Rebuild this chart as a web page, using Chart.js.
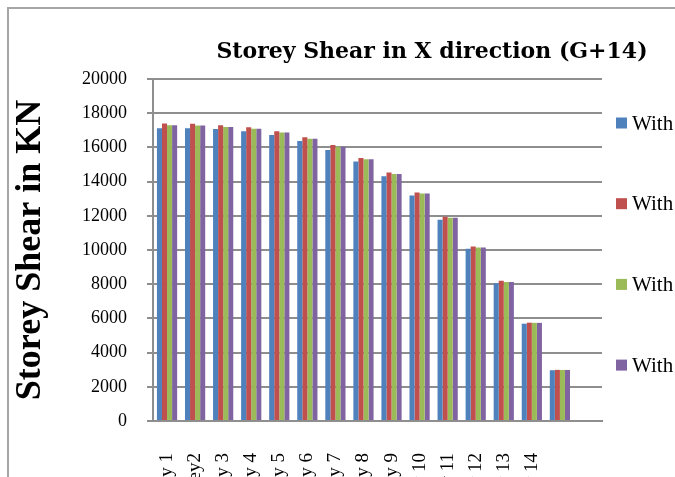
<!DOCTYPE html>
<html lang="en">
  <head>
    <meta charset="UTF-8" />
    <title>Storey Shear in X direction (G+14)</title>
    <script src="https://cdn.jsdelivr.net/npm/chart.js"></script>
    <style>
      body {
        margin: 0;
        background-color: #ffffff;
        overflow: hidden;
      }
      /* marco gris del grafico (sale de la ventana por la derecha y abajo) */
      .frame {
        position: absolute;
        left: 7px;
        top: 7px;
        width: 900px;
        height: 600px;
        border: 2px solid #a6a6a6;
      }
      .holder {
        position: absolute;
        left: 0;
        top: 0;
      }
    </style>
  </head>
  <body>
    <div class="frame"></div>
    <div class="holder">
      <canvas id="shearChart" width="864" height="560"></canvas>
    </div>

    <script>
      // datos
      const storeys = [
        "Storey 1", "Storey2", "Storey 3", "Storey 4", "Storey 5", "Storey 6",
        "Storey 7", "Storey 8", "Storey 9", "Storey 10", "Storey 11",
        "Storey 12", "Storey 13", "Storey 14", "", "",
      ];
      const seriesNames = [
        "With Infill",
        "With Bracing",
        "With Shear Wall",
        "With Dampers",
      ];
      const shear1 = [17125, 17125, 17070, 16950, 16720, 16370, 15845, 15180, 14310, 13185, 11770, 10075, 8060, 5690, 2970, null];
      const shear2 = [17400, 17380, 17300, 17180, 16950, 16600, 16135, 15375, 14525, 13360, 11940, 10210, 8195, 5750, 2990, null];
      const shear3 = [17300, 17280, 17200, 17090, 16870, 16500, 16035, 15300, 14450, 13300, 11880, 10150, 8135, 5740, 2985, null];
      const shear4 = [17300, 17280, 17200, 17090, 16870, 16500, 16035, 15300, 14450, 13300, 11880, 10150, 8135, 5740, 2985, null];
      const yTicks = [0, 2000, 4000, 6000, 8000, 10000, 12000, 14000, 16000, 18000, 20000];
      const chartTitle = "Storey Shear in X direction (G+14)";

      const colors = ["#4f81bd", "#c0504d", "#9bbb59", "#8064a2"];
      const gridGray = "#8e8e8e";
      const serif = "'Liberation Serif', 'Times New Roman', serif";

      // titulo centrado sobre todo el grafico (no solo sobre el area de barras)
      const wideTitle = {
        id: "wideTitle",
        afterDraw(chart) {
          const ctx = chart.ctx;
          ctx.save();
          ctx.font = "bold 22px 'DejaVu Serif', serif";
          ctx.fillStyle = "#000";
          ctx.textAlign = "center";
          ctx.textBaseline = "alphabetic";
          ctx.fillText(chartTitle, chart.width / 2, 58);
          ctx.restore();
        },
      };

      // leyenda a la derecha, cortada por el borde de la ventana
      const sideLegend = {
        id: "sideLegend",
        afterDraw(chart) {
          const ctx = chart.ctx;
          const area = chart.chartArea;
          ctx.save();
          ctx.font = "21px " + serif;
          ctx.textBaseline = "middle";
          chart.data.datasets.forEach((ds, i) => {
            const y = area.top + 44 + i * 80.7;
            ctx.fillStyle = ds.backgroundColor;
            ctx.fillRect(area.right + 14, y - 5.5, 11, 11);
            ctx.fillStyle = "#000";
            ctx.fillText(ds.label, area.right + 30, y + 1);
          });
          ctx.restore();
        },
      };

      const ctx = document.getElementById("shearChart").getContext("2d");
      new Chart(ctx, {
        type: "bar",
        data: {
          labels: storeys,
          datasets: [shear1, shear2, shear3, shear4].map((vals, i) => ({
            label: seriesNames[i],
            data: vals,
            backgroundColor: colors[i],
            borderWidth: 0,
            barPercentage: 1,
            categoryPercentage: 0.72,
          })),
        },
        options: {
          responsive: false,
          animation: false,
          devicePixelRatio: 1,
          // el area del grafico va de y = 79 a 421 y acaba en x = 602
          layout: { padding: { left: 0, right: 864 - 602, top: 79, bottom: 0 } },
          plugins: {
            legend: { display: false },
            tooltip: { enabled: false },
            title: { display: false },
          },
          scales: {
            x: {
              grid: { display: false, drawTicks: false },
              border: { display: true, color: gridGray, width: 2 },
              ticks: {
                color: "#000",
                font: { family: serif, size: 19 },
                minRotation: 90,
                maxRotation: 90,
                autoSkip: false,
                padding: 32,
              },
              afterFit(scale) {
                scale.height = 560 - 421;
              },
            },
            y: {
              min: 0,
              max: 20000,
              afterBuildTicks(scale) {
                scale.ticks = yTicks.map((v) => ({ value: v }));
              },
              grid: { color: gridGray, lineWidth: 2, tickLength: 6 },
              border: { display: true, color: gridGray, width: 2 },
              ticks: {
                color: "#000",
                font: { family: serif, size: 18 },
                padding: 20,
                callback: (v) => String(v),
              },
              title: {
                display: true,
                text: "Storey Shear in KN",
                color: "#000",
                font: { family: serif, size: 36, weight: "bold", lineHeight: 1.2 },
                padding: { top: 9, bottom: 0 },
              },
              afterFit(scale) {
                scale.width = 153;
              },
            },
          },
        },
        plugins: [wideTitle, sideLegend],
      });
    </script>
  </body>
</html>
